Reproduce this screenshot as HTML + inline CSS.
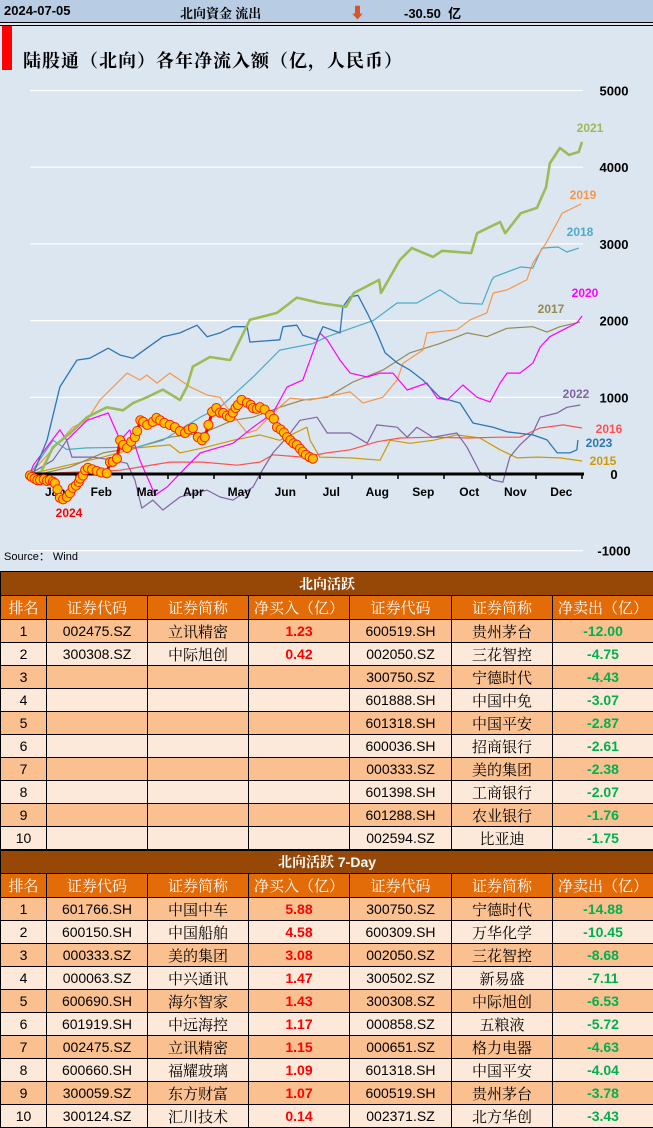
<!DOCTYPE html>
<html><head><meta charset="utf-8"><style>
*{margin:0;padding:0;box-sizing:border-box}
body{width:653px;height:1127px;overflow:hidden;background:#fff;font-family:"Liberation Sans","Noto Sans CJK SC",sans-serif;position:relative}
#top{position:absolute;left:0;top:0;width:653px;height:22px;background:#b8cce4;font-size:13px;font-weight:bold}
#top span{position:absolute;top:3px}
#dl{position:absolute;left:0;top:22px;width:653px;height:4px;border-top:1.5px solid #000;border-bottom:1px solid #000;background:#dce6f1}
#panel{position:absolute;left:0;top:26px;width:653px;height:545px;background:#dce6f1}
#redbar{position:absolute;left:2px;top:26px;width:10px;height:44px;background:#f00}
#title{position:absolute;left:23px;top:47px;font-size:18px;font-family:"Liberation Serif","Noto Serif CJK SC",serif;font-weight:bold;letter-spacing:1px}
svg{position:absolute;left:0;top:0}
table{position:absolute;left:0;width:653px;border-collapse:collapse;table-layout:fixed}
td{border:1px solid #000;text-align:center;font-size:14px;height:23px;padding:0;white-space:nowrap;overflow:hidden}
.tt td{background:#974706;color:#fff;font-weight:bold;font-family:"Liberation Sans","Noto Serif CJK SC",serif;font-size:14px;height:24px}
.hd td{background:#e36c09;color:#fff;font-family:"Liberation Serif","Noto Serif CJK SC",serif;font-size:15px;height:24px}
tr.o td{background:#fac090}
tr.e td{background:#fde9d9}
.cn{font-family:"Liberation Serif","Noto Serif CJK SC",serif;font-size:15px}
.r{color:#f00;font-weight:bold}
.g{color:#00b050;font-weight:bold}
</style></head><body>
<div id="top">
<span style="left:4px">2024-07-05</span>
<span style="left:180px;font-family:'Liberation Serif','Noto Serif CJK SC',serif">北向資金 流出</span>
<span style="left:350px;top:2px;color:#d9532b;font-size:15px">⬇</span>
<span style="left:404px">-30.50&nbsp; 亿</span>
</div>
<div id="dl"></div>
<div id="panel"></div>
<div id="redbar"></div>
<div id="title">陆股通（北向）各年净流入额（亿，人民币）</div>
<svg id="chart" width="653" height="571"></svg>

<table style="top:571px">
<colgroup><col style="width:46px"><col style="width:101px"><col style="width:101px"><col style="width:101px"><col style="width:102px"><col style="width:101px"><col style="width:101px"></colgroup>
<tr class="tt"><td colspan="7">北向活跃</td></tr>
<tr class="hd"><td>排名</td><td>证券代码</td><td>证券简称</td><td>净买入（亿）</td><td>证券代码</td><td>证券简称</td><td>净卖出（亿）</td></tr>
<tr class="o"><td>1</td><td>002475.SZ</td><td class="cn">立讯精密</td><td class="r">1.23</td><td>600519.SH</td><td class="cn">贵州茅台</td><td class="g">-12.00</td></tr>
<tr class="e"><td>2</td><td>300308.SZ</td><td class="cn">中际旭创</td><td class="r">0.42</td><td>002050.SZ</td><td class="cn">三花智控</td><td class="g">-4.75</td></tr>
<tr class="o"><td>3</td><td></td><td></td><td></td><td>300750.SZ</td><td class="cn">宁德时代</td><td class="g">-4.43</td></tr>
<tr class="e"><td>4</td><td></td><td></td><td></td><td>601888.SH</td><td class="cn">中国中免</td><td class="g">-3.07</td></tr>
<tr class="o"><td>5</td><td></td><td></td><td></td><td>601318.SH</td><td class="cn">中国平安</td><td class="g">-2.87</td></tr>
<tr class="e"><td>6</td><td></td><td></td><td></td><td>600036.SH</td><td class="cn">招商银行</td><td class="g">-2.61</td></tr>
<tr class="o"><td>7</td><td></td><td></td><td></td><td>000333.SZ</td><td class="cn">美的集团</td><td class="g">-2.38</td></tr>
<tr class="e"><td>8</td><td></td><td></td><td></td><td>601398.SH</td><td class="cn">工商银行</td><td class="g">-2.07</td></tr>
<tr class="o"><td>9</td><td></td><td></td><td></td><td>601288.SH</td><td class="cn">农业银行</td><td class="g">-1.76</td></tr>
<tr class="e"><td>10</td><td></td><td></td><td></td><td>002594.SZ</td><td class="cn">比亚迪</td><td class="g">-1.75</td></tr>
</table>

<table style="top:850px">
<colgroup><col style="width:46px"><col style="width:101px"><col style="width:101px"><col style="width:101px"><col style="width:102px"><col style="width:101px"><col style="width:101px"></colgroup>
<tr class="tt"><td colspan="7" style="height:23px">北向活跃 7-Day</td></tr>
<tr class="hd"><td style="height:23px">排名</td><td>证券代码</td><td>证券简称</td><td>净买入（亿）</td><td>证券代码</td><td>证券简称</td><td>净卖出（亿）</td></tr>
<tr class="o"><td>1</td><td>601766.SH</td><td class="cn">中国中车</td><td class="r">5.88</td><td>300750.SZ</td><td class="cn">宁德时代</td><td class="g">-14.88</td></tr>
<tr class="e"><td>2</td><td>600150.SH</td><td class="cn">中国船舶</td><td class="r">4.58</td><td>600309.SH</td><td class="cn">万华化学</td><td class="g">-10.45</td></tr>
<tr class="o"><td>3</td><td>000333.SZ</td><td class="cn">美的集团</td><td class="r">3.08</td><td>002050.SZ</td><td class="cn">三花智控</td><td class="g">-8.68</td></tr>
<tr class="e"><td>4</td><td>000063.SZ</td><td class="cn">中兴通讯</td><td class="r">1.47</td><td>300502.SZ</td><td class="cn">新易盛</td><td class="g">-7.11</td></tr>
<tr class="o"><td>5</td><td>600690.SH</td><td class="cn">海尔智家</td><td class="r">1.43</td><td>300308.SZ</td><td class="cn">中际旭创</td><td class="g">-6.53</td></tr>
<tr class="e"><td>6</td><td>601919.SH</td><td class="cn">中远海控</td><td class="r">1.17</td><td>000858.SZ</td><td class="cn">五粮液</td><td class="g">-5.72</td></tr>
<tr class="o"><td>7</td><td>002475.SZ</td><td class="cn">立讯精密</td><td class="r">1.15</td><td>000651.SZ</td><td class="cn">格力电器</td><td class="g">-4.63</td></tr>
<tr class="e"><td>8</td><td>600660.SH</td><td class="cn">福耀玻璃</td><td class="r">1.09</td><td>601318.SH</td><td class="cn">中国平安</td><td class="g">-4.04</td></tr>
<tr class="o"><td>9</td><td>300059.SZ</td><td class="cn">东方财富</td><td class="r">1.07</td><td>600519.SH</td><td class="cn">贵州茅台</td><td class="g">-3.78</td></tr>
<tr class="e"><td>10</td><td>300124.SZ</td><td class="cn">汇川技术</td><td class="r">0.14</td><td>002371.SZ</td><td class="cn">北方华创</td><td class="g">-3.43</td></tr>
</table>

<script>
const months = ["Jan","Feb","Mar","Apr","May","Jun","Jul","Aug","Sep","Oct","Nov","Dec"];
const yTicks = [5000,4000,3000,2000,1000,0,-1000];
// x in months since Jan 1, values in 亿
const t2015 = [0,1.59,2.33,3.04,3.26,3.76,4.41,5.0,5.43,6.02,6.09,6.3,6.96,7.61,7.83,8.26,8.76,9.28,9.78,10.22,10.59,11.02,11.52,12];
const v2015 = [0,220,340,380,275,340,440,510,440,610,440,220,210,180,440,400,440,510,470,315,210,220,210,170];
const t2016 = [0,1.96,3.04,3.76,4.5,5.0,5.28,5.93,6.46,6.96,7.54,8.04,8.76,9.5,10.22,10.65,11.09,11.59,12];
const v2016 = [0,50,155,155,115,155,250,220,275,315,420,470,480,470,480,480,600,640,600];
const t2017 = [0,0.22,0.87,1.59,2.33,3.04,3.76,4.41,4.85,5.43,5.93,6.46,7.02,7.67,8.26,8.91,9.5,9.93,10.37,10.93,11.24,11.52,11.96];
const v2017 = [0,0,90,275,350,480,535,700,740,870,965,1000,1200,1355,1580,1700,1840,1790,1900,1920,1850,1920,1980];
const t2018 = [0,0.5,0.8,1.24,2.33,2.89,3.7,4.13,4.85,5.43,6.15,6.46,7.46,7.98,8.41,8.91,9.35,9.83,10.04,10.09,10.67,10.93,11.13,11.48,11.67,11.93];
const v2018 = [0,440,320,340,350,440,740,870,1265,1615,1700,1790,2000,2230,2230,2400,2230,2215,2530,2570,2700,2685,2945,2960,2895,2945];
const t2019 = [0,0.93,1.24,1.52,2.11,2.39,2.54,2.76,3.04,3.48,3.85,4.13,4.28,4.72,4.93,5.28,5.65,6.09,6.96,7.24,7.67,7.98,8.11,8.54,8.63,9.28,9.57,9.93,10.07,10.37,10.8,10.93,11.22,11.57,11.98];
const v2019 = [0,610,700,965,1315,1225,1290,1185,1315,1135,1030,1000,870,535,575,795,990,965,1070,925,1000,1225,1445,1615,1840,1880,2010,2100,2360,2400,2530,2750,3010,3400,3520];
const t2020 = [0,0.07,0.65,0.8,1.24,1.7,1.96,2.17,2.39,2.72,2.98,3.33,3.7,4.41,4.85,5.28,5.59,5.93,6.3,6.46,6.74,6.96,7.33,7.61,7.89,8.2,8.63,8.85,9.07,9.41,9.72,10.0,10.22,10.37,10.65,10.93,11.09,11.3,11.59,11.89,12];
const v2020 = [0,115,575,440,700,795,440,575,180,-275,-170,50,275,400,610,795,1135,1225,1840,1750,1485,1315,1265,1315,1315,1095,1185,990,965,1160,1000,940,1185,1315,1315,1445,1655,1790,1880,1970,2060];
const t2021 = [0,0.22,0.5,0.87,1.24,1.67,2.02,2.24,2.54,2.89,3.26,3.41,3.54,3.91,4.35,4.78,5.37,5.8,6.3,6.87,7.04,7.59,7.63,8.04,8.3,8.76,8.96,9.59,9.72,10.22,10.33,10.67,11.02,11.22,11.3,11.52,11.72,11.93,12];
const v2021 = [0,0,350,530,740,870,830,925,1000,1100,965,1135,1400,1525,1485,2010,2100,2300,2230,2180,2360,2530,2360,2790,2945,2830,2910,2880,3140,3285,3140,3400,3470,3740,4050,4250,4160,4200,4330];
const t2022 = [0,0.5,0.8,0.91,1.37,1.8,2.11,2.28,2.43,2.67,2.89,3.26,3.85,4.13,4.41,4.85,5.0,5.28,5.59,5.87,6.24,6.46,6.96,7.33,7.54,7.98,8.2,8.41,8.76,9.28,9.5,9.78,10.07,10.28,10.43,10.65,10.93,11.09,11.46,11.67,11.96];
const v2022 = [0,180,440,220,220,180,140,-80,-445,-340,-470,-300,-210,-300,-340,-170,0,275,480,700,740,535,535,400,640,610,480,610,480,535,350,25,-80,-105,220,380,535,740,795,870,900];
const t2023 = [0,0.07,0.37,0.65,1.02,1.3,1.7,1.96,2.24,2.54,2.89,3.26,3.63,3.85,4.13,4.41,4.72,4.78,5.43,5.5,5.8,5.93,6.24,6.37,6.74,6.8,6.96,7.13,7.33,7.54,7.72,7.98,8.26,8.54,8.91,9.35,9.63,10.07,10.37,10.93,11.24,11.46,11.74,11.89,11.91];
const v2023 = [0,0,440,1135,1485,1510,1640,1550,1510,1640,1790,1840,1940,1790,1840,1920,1920,1720,1750,1920,1940,1810,1750,1920,1840,2180,2310,2330,2100,1840,1580,1450,1355,1225,1000,925,665,610,550,510,445,275,275,315,445];
const t2024 = [0,0.04,0.1,0.16,0.22,0.3,0.37,0.43,0.5,0.54,0.6,0.65,0.72,0.8,0.87,0.93,1.0,1.06,1.09,1.15,1.2,1.26,1.35,1.45,1.55,1.67,1.74,1.8,1.89,1.96,2.03,2.11,2.2,2.28,2.33,2.4,2.46,2.55,2.67,2.75,2.83,2.92,3.04,3.15,3.26,3.37,3.45,3.54,3.65,3.74,3.8,3.88,3.96,4.05,4.13,4.2,4.28,4.35,4.41,4.47,4.52,4.6,4.72,4.8,4.85,4.93,5.0,5.1,5.22,5.3,5.37,5.45,5.52,5.59,5.66,5.73,5.8,5.87,5.93,6.0,6.08,6.15];
const v2024 = [-20,-40,-60,-80,-80,-70,-90,-80,-100,-120,-200,-310,-330,-300,-250,-180,-150,-105,-60,-20,50,80,60,40,20,10,155,160,200,440,380,340,420,480,560,700,680,640,680,730,700,665,640,610,560,535,580,600,480,440,480,640,810,860,800,795,760,740,800,860,900,965,930,900,860,850,870,840,770,720,610,580,540,480,440,400,380,330,290,250,220,200];

const series = [
 {name:'2015',t:t2015,v:v2015,c:'#cc9a06',w:1.2},
 {name:'2016',t:t2016,v:v2016,c:'#ff5050',w:1.2},
 {name:'2017',t:t2017,v:v2017,c:'#948a54',w:1.2},
 {name:'2018',t:t2018,v:v2018,c:'#4bacc6',w:1.2},
 {name:'2019',t:t2019,v:v2019,c:'#f79646',w:1.2},
 {name:'2020',t:t2020,v:v2020,c:'#ff00ff',w:1.2},
 {name:'2022',t:t2022,v:v2022,c:'#8064a2',w:1.2},
 {name:'2023',t:t2023,v:v2023,c:'#2e75b6',w:1.3},
 {name:'2021',t:t2021,v:v2021,c:'#9bbb59',w:2.6}
];
const X0=30, X1=582, Y0=474, PX=0.0767;
function xs(m){return X0+(X1-X0)*m/12;}
function ys(v){return Y0-v*PX;}
const NS='http://www.w3.org/2000/svg';
const svg=document.getElementById('chart');
function el(tag,attrs,parent){const e=document.createElementNS(NS,tag);for(const k in attrs)e.setAttribute(k,attrs[k]);(parent||svg).appendChild(e);return e;}

yTicks.forEach(v=>{
  if(v!==0){const g=el('line',{x1:X0,x2:X1+1,y1:ys(v),y2:ys(v),stroke:'#fff','stroke-width':1.2});
  
  }
  const t=el('text',{x:614,y:ys(v)+5,'text-anchor':'middle','font-size':13,'font-weight':'bold','font-family':'Liberation Sans, sans-serif'});
  t.textContent=v;
  
  
});
series.forEach(s=>{
  const d=s.t.map((m,i)=>(i?'L':'M')+xs(m).toFixed(1)+' '+ys(s.v[i]).toFixed(1)).join(' ');
  const p=el('path',{d:d,fill:'none',stroke:s.c,'stroke-width':s.w,'stroke-linejoin':'round'});
  
  
});
const ax=el('line',{x1:X0,x2:X1+2,y1:Y0,y2:Y0,stroke:'#000','stroke-width':3});


for(let i=0;i<=12;i++){const tk=el('line',{x1:xs(i),x2:xs(i),y1:Y0,y2:Y0+5,stroke:'#000','stroke-width':1.5});

}
months.forEach((mn,i)=>{const t=el('text',{x:xs(i+0.55),y:496,'text-anchor':'middle','font-size':12,'font-weight':'bold','font-family':'Liberation Sans, sans-serif'});
t.textContent=mn;

});
// 2024 series
const d24=t2024.map((m,i)=>(i?'L':'M')+xs(m).toFixed(1)+' '+ys(v2024[i]).toFixed(1)).join(' ');
const p24=el('path',{d:d24,fill:'none',stroke:'#ff0000','stroke-width':3,'stroke-linejoin':'round'});


t2024.forEach((m,i)=>{const c=el('circle',{cx:xs(m),cy:ys(v2024[i]),r:4.6,fill:'#ffc000',stroke:'#ff2000','stroke-width':1});

});
const labels=[['2021',590,132,'#9bbb59'],['2019',583,199,'#f79646'],['2018',580,236,'#4bacc6'],['2020',585,297,'#ff00ff'],['2017',551,313,'#948a54'],['2022',576,398,'#8064a2'],['2016',609,433,'#ff5050'],['2023',599,447,'#2e75b6'],['2015',603,465,'#cc9a06'],['2024',69,517,'#ff0000']];
labels.forEach(l=>{const t=el('text',{x:l[1],y:l[2],'text-anchor':'middle','font-size':12,'font-weight':'bold',fill:l[3],'font-family':'Liberation Sans, sans-serif'});
t.textContent=l[0];

});
const src=el('text',{x:4,y:560,'font-size':11,'font-family':'Liberation Sans, Noto Sans CJK SC, sans-serif'});
src.textContent='Source： Wind';


</script>
</body></html>
